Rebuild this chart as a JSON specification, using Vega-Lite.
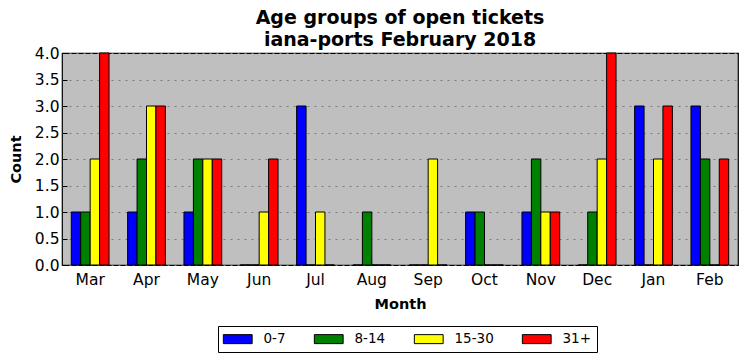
{
  "$schema": "https://vega.github.io/schema/vega-lite/v6.json",
  "width": 676,
  "height": 212,
  "autosize": {"type": "none"},
  "padding": {"left": 62, "top": 53, "right": 9, "bottom": 96},
  "background": "white",
  "title": {
    "text": ["Age groups of open tickets", "iana-ports February 2018"],
    "font": "DejaVu Sans",
    "fontSize": 19,
    "fontWeight": "bold",
    "color": "black",
    "offset": 6,
    "dy": 10,
    "lineHeight": 22,
    "anchor": "middle"
  },
  "config": {
    "font": "DejaVu Sans",
    "view": {"fill": "#bfbfbf", "stroke": "black", "strokeWidth": 1.2},
    "axis": {
      "labelFont": "DejaVu Sans",
      "labelFontSize": 15.5,
      "labelColor": "black",
      "titleFont": "DejaVu Sans",
      "titleFontSize": 14.5,
      "titleFontWeight": "bold",
      "titleColor": "black",
      "domain": false,
      "tickColor": "black",
      "tickSize": -5,
      "tickWidth": 1
    }
  },
  "data": {
    "values": [
      {"Month": "Mar", "group": "0-7", "Count": 1}, {"Month": "Mar", "group": "8-14", "Count": 1}, {"Month": "Mar", "group": "15-30", "Count": 2}, {"Month": "Mar", "group": "31+", "Count": 4},
      {"Month": "Apr", "group": "0-7", "Count": 1}, {"Month": "Apr", "group": "8-14", "Count": 2}, {"Month": "Apr", "group": "15-30", "Count": 3}, {"Month": "Apr", "group": "31+", "Count": 3},
      {"Month": "May", "group": "0-7", "Count": 1}, {"Month": "May", "group": "8-14", "Count": 2}, {"Month": "May", "group": "15-30", "Count": 2}, {"Month": "May", "group": "31+", "Count": 2},
      {"Month": "Jun", "group": "0-7", "Count": 0}, {"Month": "Jun", "group": "8-14", "Count": 0}, {"Month": "Jun", "group": "15-30", "Count": 1}, {"Month": "Jun", "group": "31+", "Count": 2},
      {"Month": "Jul", "group": "0-7", "Count": 3}, {"Month": "Jul", "group": "8-14", "Count": 0}, {"Month": "Jul", "group": "15-30", "Count": 1}, {"Month": "Jul", "group": "31+", "Count": 0},
      {"Month": "Aug", "group": "0-7", "Count": 0}, {"Month": "Aug", "group": "8-14", "Count": 1}, {"Month": "Aug", "group": "15-30", "Count": 0}, {"Month": "Aug", "group": "31+", "Count": 0},
      {"Month": "Sep", "group": "0-7", "Count": 0}, {"Month": "Sep", "group": "8-14", "Count": 0}, {"Month": "Sep", "group": "15-30", "Count": 2}, {"Month": "Sep", "group": "31+", "Count": 0},
      {"Month": "Oct", "group": "0-7", "Count": 1}, {"Month": "Oct", "group": "8-14", "Count": 1}, {"Month": "Oct", "group": "15-30", "Count": 0}, {"Month": "Oct", "group": "31+", "Count": 0},
      {"Month": "Nov", "group": "0-7", "Count": 1}, {"Month": "Nov", "group": "8-14", "Count": 2}, {"Month": "Nov", "group": "15-30", "Count": 1}, {"Month": "Nov", "group": "31+", "Count": 1},
      {"Month": "Dec", "group": "0-7", "Count": 0}, {"Month": "Dec", "group": "8-14", "Count": 1}, {"Month": "Dec", "group": "15-30", "Count": 2}, {"Month": "Dec", "group": "31+", "Count": 4},
      {"Month": "Jan", "group": "0-7", "Count": 3}, {"Month": "Jan", "group": "8-14", "Count": 0}, {"Month": "Jan", "group": "15-30", "Count": 2}, {"Month": "Jan", "group": "31+", "Count": 3},
      {"Month": "Feb", "group": "0-7", "Count": 3}, {"Month": "Feb", "group": "8-14", "Count": 2}, {"Month": "Feb", "group": "15-30", "Count": 0}, {"Month": "Feb", "group": "31+", "Count": 2}
    ]
  },
  "mark": {"type": "bar", "stroke": "black", "strokeWidth": 1, "opacity": 1},
  "encoding": {
    "x": {
      "field": "Month",
      "type": "ordinal",
      "sort": ["Mar", "Apr", "May", "Jun", "Jul", "Aug", "Sep", "Oct", "Nov", "Dec", "Jan", "Feb"],
      "scale": {"paddingInner": 0.33, "paddingOuter": 0.165},
      "axis": {"title": "Month", "labelAngle": 0, "labelPadding": 12, "titlePadding": 10, "orient": "bottom"}
    },
    "y": {
      "field": "Count",
      "type": "quantitative",
      "scale": {"domain": [0, 4], "nice": false, "zero": true},
      "axis": {
        "title": "Count",
        "values": [0, 0.5, 1, 1.5, 2, 2.5, 3, 3.5, 4],
        "format": ".1f",
        "labelPadding": 8,
        "titlePadding": 11,
        "grid": true,
        "gridColor": "#7a7a7a",
        "gridDash": [2, 5],
        "gridWidth": 1,
        "orient": "left"
      }
    },
    "xOffset": {
      "field": "group",
      "type": "nominal",
      "sort": ["0-7", "8-14", "15-30", "31+"],
      "scale": {"paddingInner": 0, "paddingOuter": 0}
    },
    "color": {
      "field": "group",
      "type": "nominal",
      "sort": ["0-7", "8-14", "15-30", "31+"],
      "scale": {"domain": ["0-7", "8-14", "15-30", "31+"], "range": ["#0000ff", "#008000", "#ffff00", "#ff0000"]},
      "legend": {
        "title": null,
        "orient": "none",
        "direction": "horizontal",
        "legendX": 156,
        "legendY": 273,
        "symbolType": "M-3.2,-1H3.2V1H-3.2Z",
        "symbolSize": 81,
        "symbolStrokeColor": "black",
        "symbolStrokeWidth": 1,
        "symbolOpacity": 1,
        "symbolOffset": 7,
        "labelOffset": 19,
        "labelFontSize": 13.5,
        "labelFont": "DejaVu Sans",
        "labelColor": "black",
        "columnPadding": 26,
        "strokeColor": "black",
        "fillColor": "white",
        "padding": 6,
        "offset": 0
      }
    }
  }
}
